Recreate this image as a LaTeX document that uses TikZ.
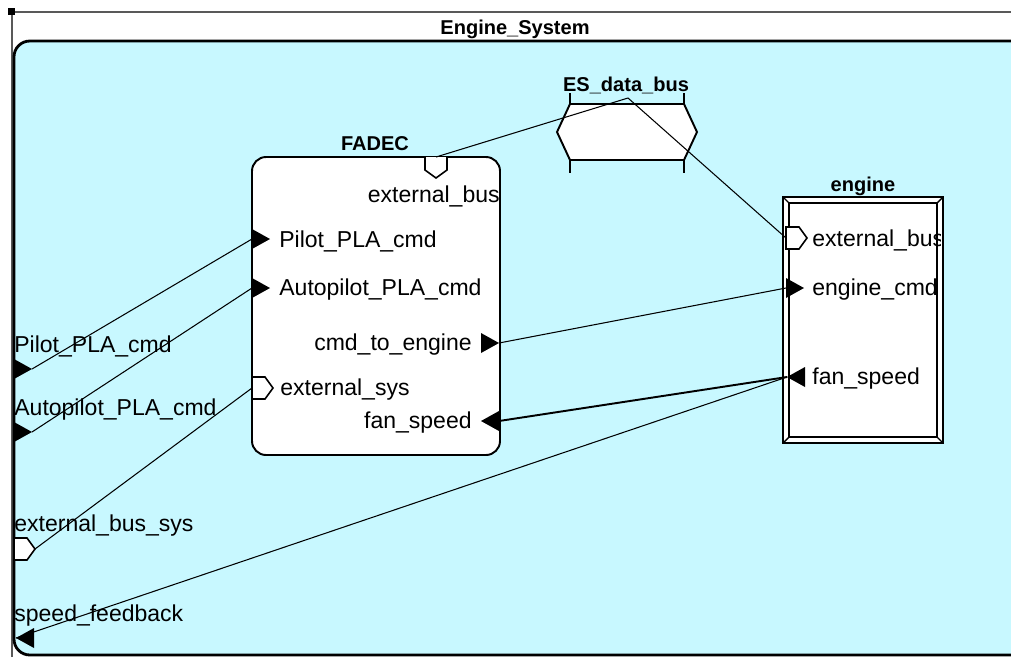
\documentclass[tikz,border=0pt]{standalone}
\usepackage{fontspec}
\setmainfont{Liberation Sans}
\usepackage{tikz}
\usetikzlibrary{positioning}
\definecolor{sysfill}{RGB}{200,248,255}

\begin{document}
\begin{tikzpicture}[x=0.02cm, y=-0.02cm,
    lbl/.style={inner sep=0pt, font=\fontsize{13.1}{15}\selectfont},
    title/.style={inner sep=0pt, font=\fontsize{11.4}{14}\selectfont\bfseries},
    link/.style={line width=0.6pt},
    tri right/.pic={\fill (0,-10) -- (18,0) -- (0,10) -- cycle;},
    tri left/.pic={\fill (18,-10) -- (0,0) -- (18,10) -- cycle;},
    bus right/.pic={\draw[fill=white, line width=0.9pt]
      (0,-11) -- (13,-11) -- (21,0) -- (13,11) -- (0,11) -- cycle;},
    bus down/.pic={\draw[fill=white, line width=0.9pt]
      (-11,0) -- (-11,13) -- (0,21) -- (11,13) -- (11,0);}]
  \useasboundingbox (0,0) rectangle (1011,657);
  \clip (0,0) rectangle (1011,657);

  % outer frame
  \draw[line width=0.8pt, black!65] (12,657) -- (12,12) -- (1011,12);
  \fill (8,8) rectangle (15,15);
  \node[title] (sysname) at (515,29) {Engine\_System};
  \draw[line width=1.6pt, fill=sysfill, rounded corners=9] (14,41) rectangle (1040,655);

  % data bus
  \node[title] (busname) at (626,85) {ES\_data\_bus};
  \draw[line width=1.1pt, fill=white] (570,104) -- (684,104) -- (697,132)
    -- (684,160) -- (570,160) -- (557,132) -- cycle;
  \draw[line width=1.1pt] (570,93) -- (570,104) (684,93) -- (684,104)
    (570,160) -- (570,173) (684,160) -- (684,173);
  \coordinate (bus) at (628,98);

  % FADEC
  \node[title] (fadecname) at (375,144) {FADEC};
  \draw[line width=1.1pt, fill=white, rounded corners=8] (252,157) rectangle (500,455);
  \pic at (436,157) {bus down};
  \coordinate (fadec-xbus) at (436,157);
  \node[lbl, anchor=east] (fadec-xbus-l) at (500,196) {external\_bus};
  \pic at (252,239) {tri right};
  \coordinate (fadec-pilot) at (252,239);
  \node[lbl, anchor=west] (fadec-pilot-l) at (279,241) {Pilot\_PLA\_cmd};
  \pic at (252,288) {tri right};
  \coordinate (fadec-auto) at (252,288);
  \node[lbl, anchor=west] (fadec-auto-l) at (279,290) {Autopilot\_PLA\_cmd};
  \pic at (481,343) {tri right};
  \coordinate (fadec-cmd) at (499,343);
  \node[lbl, anchor=east] (fadec-cmd-l) at (472,345) {cmd\_to\_engine};
  \pic at (252,388) {bus right};
  \coordinate (fadec-xsys) at (252,388);
  \node[lbl, anchor=west] (fadec-xsys-l) at (280,390) {external\_sys};
  \pic at (481,421) {tri left};
  \coordinate (fadec-fan) at (499,421);
  \node[lbl, anchor=east] (fadec-fan-l) at (472,423) {fan\_speed};

  % engine
  \node[title] (enginename) at (863,186) {engine};
  \draw[line width=1.1pt, fill=white] (783,197) rectangle (943,443);
  \draw[line width=1.1pt] (789,203) rectangle (937,437);
  \draw[line width=0.8pt] (783,197) -- (789,203) (943,197) -- (937,203)
    (783,443) -- (789,437) (943,443) -- (937,437);
  \begin{scope}
    \clip (789,203) rectangle (940,437);
    \node[lbl, anchor=west] (eng-xbus-l) at (812,240) {external\_bus};
  \end{scope}
  \pic at (786,238) {bus right};
  \coordinate (eng-xbus) at (786,238);
  \pic at (786,288) {tri right};
  \coordinate (eng-cmd) at (786,288);
  \node[lbl, anchor=west] (eng-cmd-l) at (812,290) {engine\_cmd};
  \pic at (787,377) {tri left};
  \coordinate (eng-fan) at (787,377);
  \node[lbl, anchor=west] (eng-fan-l) at (812,379) {fan\_speed};

  % system boundary ports
  \pic at (14,369) {tri right};
  \coordinate (sys-pilot) at (32,369);
  \node[lbl, anchor=west] (sys-pilot-l) at (14,346) {Pilot\_PLA\_cmd};
  \pic at (14,432) {tri right};
  \coordinate (sys-auto) at (32,432);
  \node[lbl, anchor=west] (sys-auto-l) at (14,410) {Autopilot\_PLA\_cmd};
  \pic at (14,549) {bus right};
  \coordinate (sys-xbus) at (35,549);
  \node[lbl, anchor=west] (sys-xbus-l) at (14,526) {external\_bus\_sys};
  \pic at (16,638) {tri left};
  \coordinate (sys-speed) at (16,638);
  \node[lbl, anchor=west] (sys-speed-l) at (14,616) {speed\_feedback};

  % connectors
  \draw[link] (sys-pilot) -- (fadec-pilot);
  \draw[link] (sys-auto) -- (fadec-auto);
  \draw[link] (sys-xbus) -- (fadec-xsys);
  \draw[link] (fadec-xbus) -- (bus);
  \draw[link] (bus) -- (eng-xbus);
  \draw[link] (fadec-cmd) -- (eng-cmd);
  \draw[line width=1.1pt] (eng-fan) -- (fadec-fan);
  \draw[link] (eng-fan) -- (sys-speed);
\end{tikzpicture}
\end{document}
